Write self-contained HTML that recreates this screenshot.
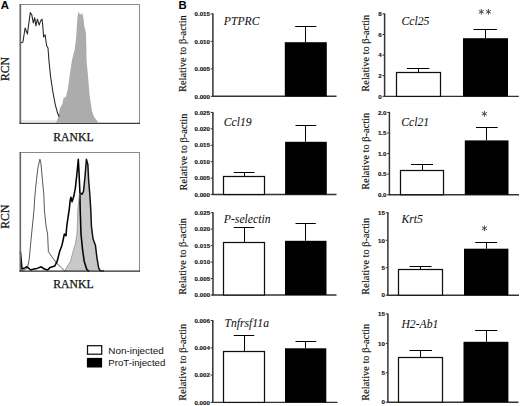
<!DOCTYPE html>
<html><head><meta charset="utf-8"><style>
html,body{margin:0;padding:0;background:#fff;}
body{width:520px;height:406px;overflow:hidden;}
svg{display:block;}
</style></head><body>
<svg width="520" height="406" viewBox="0 0 520 406">
<rect width="520" height="406" fill="#fff"/>
<text x="0.7" y="9.4" font-family="&quot;Liberation Sans&quot;, sans-serif" font-size="11.4" font-weight="bold" font-style="normal" text-anchor="start" fill="#000">A</text>
<text x="178.6" y="9.2" font-family="&quot;Liberation Sans&quot;, sans-serif" font-size="11.3" font-weight="bold" font-style="normal" text-anchor="start" fill="#000">B</text>
<path d="M56,122.5 L58,118 L60,108 L62.4,104 L64,96 L65.2,98.4 L66.4,95.2 L68,88 L69.6,76 L72,60 L73.3,54.7 L74.8,48.7 L76.2,37 L77.4,17.7 L78.5,11 L79.2,13.3 L80.7,14.8 L82.2,13 L83.6,19.2 L84.4,26.6 L85.9,32.5 L86.3,44.3 L86.5,60 L88,76 L89.6,95.2 L92,111.2 L94.4,117.6 L97.6,121.6 L98,122.5 Z" fill="#acacac" stroke="none" stroke-width="1" stroke-linejoin="round"/>
<path d="M21,43 L22.9,42.1 L25.1,28 L27.4,34 L30.3,12.6 L31.8,14.8 L33.3,22.9 L34.7,17.7 L35.9,25.8 L37.4,19.2 L39.2,25.1 L40.7,20.7 L42.1,19.2 L42.9,27.3 L43.6,36.9 L45.1,34.7 L46.6,45.8 L48,48 L48.9,60 L50.5,76 L52.9,92 L55.3,104.8 L57.7,113.6 L59.3,116.8" fill="none" stroke="#222" stroke-width="1.05" stroke-linejoin="round"/>
<line x1="21" y1="121" x2="56" y2="121" stroke="#bbb" stroke-width="0.6"/>
<line x1="19.5" y1="4.5" x2="140" y2="4.5" stroke="#8a8a8a" stroke-width="1"/>
<line x1="139.5" y1="4" x2="139.5" y2="123.8" stroke="#8a8a8a" stroke-width="1"/>
<line x1="20.3" y1="4" x2="20.3" y2="123.8" stroke="#666" stroke-width="1.7"/>
<line x1="19.5" y1="123.3" x2="140" y2="123.3" stroke="#3a3a3a" stroke-width="1.2"/>
<text x="53.3" y="141.2" font-family="&quot;Liberation Serif&quot;, serif" font-size="11.7" font-weight="normal" font-style="normal" text-anchor="start" fill="#111" stroke="#111" stroke-width="0.25">RANKL</text>
<text x="8.9" y="81" font-family="&quot;Liberation Serif&quot;, serif" font-size="11.7" font-weight="normal" font-style="normal" text-anchor="start" fill="#111" transform="rotate(-90 8.9 81)" stroke="#111" stroke-width="0.25">RCN</text>
<path d="M65,271 L67.4,266 L70.6,261.2 L73,251.6 L75.4,243.6 L77,234 L77.8,210 L79.8,192 L82,194.3 L83.5,191.4 L85,176.6 L86.4,159.2 L87.9,164.8 L88.6,179.5 L89.8,194.3 L90.8,210 L91.4,226 L93,238.8 L95.4,245.2 L97,258 L98.6,267.6 L100.2,270.8 L101,271 Z" fill="#c8c8c8" stroke="none" stroke-width="1" stroke-linejoin="round"/>
<path d="M21,270.5 L24,270 L27.6,267.6 L29.2,259.6 L30.8,242 L32.4,226 L34,210 L35,194.3 L36.5,179.5 L37.9,167.7 L39.9,159.2 L40.9,163.3 L42.4,179.5 L43.8,194.3 L44.4,210 L46,226 L47.6,234 L48.4,251.6 L51.6,256.4 L56.4,262.8 L61.2,267.6 L64.4,270.8 L66,271" fill="none" stroke="#444" stroke-width="0.9" stroke-linejoin="round"/>
<path d="M20.4,251.6 L22,269 L25.2,267.6 L26.8,266.8 L30.8,270 L34,269 L37.2,268.4 L41.2,266.8 L44.4,269 L47.6,270 L50,267.6 L54.8,266 L57.2,261.2 L59.6,251.6 L62,245.2 L64.4,234 L66,235.6 L66.8,226 L68.4,214.8 L69.2,210 L70.2,200.2 L70.9,197.3 L72.1,201.7 L73.9,195.8 L75.3,188.4 L76.8,175.1 L78.3,159.2 L79,172 L79.8,190 L80.2,210 L81,234 L82.6,250 L84.2,261.2 L86.6,269 L89,271.6" fill="none" stroke="#000" stroke-width="1.55" stroke-linejoin="round"/>
<path d="M80.5,192.8 L82,194.3 L83.5,191.4 L85,176.6 L86.4,159.2 L87.9,164.8 L88.6,179.5 L89.8,194.3 L90.8,210 L91.4,226 L93,238.8 L95.4,245.2 L97,258 L98.6,267.6 L100.2,270.8 L104,271" fill="none" stroke="#111" stroke-width="1.5" stroke-linejoin="round"/>
<path d="M65,270.5 L67.4,266 L70.6,261.2 L73,251.6 L75.4,243.6 L77,234 L77.8,210 L79.5,193" fill="none" stroke="#888" stroke-width="0.7" stroke-linejoin="round"/>
<line x1="19.5" y1="152.5" x2="140" y2="152.5" stroke="#8a8a8a" stroke-width="1"/>
<line x1="139.5" y1="152" x2="139.5" y2="271.6" stroke="#8a8a8a" stroke-width="1"/>
<line x1="20.3" y1="152" x2="20.3" y2="271.6" stroke="#666" stroke-width="1.6"/>
<line x1="19.5" y1="271.1" x2="140" y2="271.1" stroke="#2a2a2a" stroke-width="1.3"/>
<text x="53.3" y="288.2" font-family="&quot;Liberation Serif&quot;, serif" font-size="11.7" font-weight="normal" font-style="normal" text-anchor="start" fill="#111" stroke="#111" stroke-width="0.25">RANKL</text>
<text x="8.9" y="228.7" font-family="&quot;Liberation Serif&quot;, serif" font-size="11.7" font-weight="normal" font-style="normal" text-anchor="start" fill="#111" transform="rotate(-90 8.9 228.7)" stroke="#111" stroke-width="0.25">RCN</text>
<rect x="87.5" y="345.7" width="14.2" height="8.5" fill="#fff" stroke="#111" stroke-width="1.25"/>
<rect x="86.9" y="357.9" width="15.2" height="9.6" fill="#000"/>
<text x="108.3" y="353.6" font-family="&quot;Liberation Sans&quot;, sans-serif" font-size="9.9" font-weight="normal" font-style="normal" text-anchor="start" fill="#111">Non-injected</text>
<text x="108.3" y="366.1" font-family="&quot;Liberation Sans&quot;, sans-serif" font-size="9.7" font-weight="normal" font-style="normal" text-anchor="start" fill="#111">ProT-injected</text>
<line x1="212.9" y1="13.4" x2="212.9" y2="96.9" stroke="#333" stroke-width="1.5"/>
<line x1="212.2" y1="96.3" x2="336.5" y2="96.3" stroke="#333" stroke-width="1.4"/>
<line x1="210.7" y1="13.9" x2="212.9" y2="13.9" stroke="#333" stroke-width="1"/>
<text x="210" y="16.15" font-family="&quot;Liberation Sans&quot;, sans-serif" font-size="6.2" font-weight="bold" font-style="normal" text-anchor="end" fill="#111" stroke="#111" stroke-width="0.12">0.015</text>
<line x1="210.7" y1="41.37" x2="212.9" y2="41.37" stroke="#333" stroke-width="1"/>
<text x="210" y="43.62" font-family="&quot;Liberation Sans&quot;, sans-serif" font-size="6.2" font-weight="bold" font-style="normal" text-anchor="end" fill="#111" stroke="#111" stroke-width="0.12">0.010</text>
<line x1="210.7" y1="68.83" x2="212.9" y2="68.83" stroke="#333" stroke-width="1"/>
<text x="210" y="71.08" font-family="&quot;Liberation Sans&quot;, sans-serif" font-size="6.2" font-weight="bold" font-style="normal" text-anchor="end" fill="#111" stroke="#111" stroke-width="0.12">0.005</text>
<line x1="210.7" y1="96.3" x2="212.9" y2="96.3" stroke="#333" stroke-width="1"/>
<text x="210" y="98.55" font-family="&quot;Liberation Sans&quot;, sans-serif" font-size="6.2" font-weight="bold" font-style="normal" text-anchor="end" fill="#111" stroke="#111" stroke-width="0.12">0.000</text>
<text x="186.5" y="53.6" font-family="&quot;Liberation Serif&quot;, serif" font-size="10.4" font-weight="normal" font-style="normal" text-anchor="middle" fill="#111" transform="rotate(-90 186.5 53.6)" stroke="#111" stroke-width="0.15">Relative to β-actin</text>
<line x1="305.5" y1="26.5" x2="305.5" y2="42.2" stroke="#000" stroke-width="1"/>
<line x1="295.2" y1="26.5" x2="316.4" y2="26.5" stroke="#000" stroke-width="1"/>
<rect x="284.8" y="42.2" width="42" height="54.1" fill="#000"/>
<text x="223.8" y="24.8" font-family="&quot;Liberation Serif&quot;, serif" font-size="11.7" font-weight="normal" font-style="italic" text-anchor="start" fill="#111" stroke="#111" stroke-width="0.05">PTPRC</text>
<line x1="384.6" y1="13.4" x2="384.6" y2="97" stroke="#333" stroke-width="1.5"/>
<line x1="383.9" y1="96.4" x2="518.8" y2="96.4" stroke="#333" stroke-width="1.4"/>
<line x1="382.4" y1="13.9" x2="384.6" y2="13.9" stroke="#333" stroke-width="1"/>
<text x="381.7" y="16.15" font-family="&quot;Liberation Sans&quot;, sans-serif" font-size="6.2" font-weight="bold" font-style="normal" text-anchor="end" fill="#111" stroke="#111" stroke-width="0.12">8</text>
<line x1="382.4" y1="34.5" x2="384.6" y2="34.5" stroke="#333" stroke-width="1"/>
<text x="381.7" y="36.75" font-family="&quot;Liberation Sans&quot;, sans-serif" font-size="6.2" font-weight="bold" font-style="normal" text-anchor="end" fill="#111" stroke="#111" stroke-width="0.12">6</text>
<line x1="382.4" y1="55.1" x2="384.6" y2="55.1" stroke="#333" stroke-width="1"/>
<text x="381.7" y="57.35" font-family="&quot;Liberation Sans&quot;, sans-serif" font-size="6.2" font-weight="bold" font-style="normal" text-anchor="end" fill="#111" stroke="#111" stroke-width="0.12">4</text>
<line x1="382.4" y1="75.7" x2="384.6" y2="75.7" stroke="#333" stroke-width="1"/>
<text x="381.7" y="77.95" font-family="&quot;Liberation Sans&quot;, sans-serif" font-size="6.2" font-weight="bold" font-style="normal" text-anchor="end" fill="#111" stroke="#111" stroke-width="0.12">2</text>
<line x1="382.4" y1="96.3" x2="384.6" y2="96.3" stroke="#333" stroke-width="1"/>
<text x="381.7" y="98.55" font-family="&quot;Liberation Sans&quot;, sans-serif" font-size="6.2" font-weight="bold" font-style="normal" text-anchor="end" fill="#111" stroke="#111" stroke-width="0.12">0</text>
<text x="369.2" y="53.2" font-family="&quot;Liberation Serif&quot;, serif" font-size="10.4" font-weight="normal" font-style="normal" text-anchor="middle" fill="#111" transform="rotate(-90 369.2 53.2)" stroke="#111" stroke-width="0.15">Relative to β-actin</text>
<line x1="418.5" y1="68.5" x2="418.5" y2="72.3" stroke="#000" stroke-width="1"/>
<line x1="406.9" y1="68.5" x2="429.4" y2="68.5" stroke="#000" stroke-width="1"/>
<rect x="396.5" y="72.5" width="44" height="23.9" fill="#fff" stroke="#111" stroke-width="1.25"/>
<line x1="485.5" y1="29.5" x2="485.5" y2="38.2" stroke="#000" stroke-width="1"/>
<line x1="473.5" y1="29.5" x2="496.9" y2="29.5" stroke="#000" stroke-width="1"/>
<rect x="463" y="38.2" width="45" height="58.2" fill="#000"/>
<text x="401.5" y="24.8" font-family="&quot;Liberation Serif&quot;, serif" font-size="11.7" font-weight="normal" font-style="italic" text-anchor="start" fill="#111" stroke="#111" stroke-width="0.05">Ccl25</text>
<path d="M481.3,9.3 L481.3,14.3 M479.13,10.55 L483.47,13.05 M483.47,10.55 L479.13,13.05" stroke="#444" stroke-width="0.95" stroke-linecap="round" fill="none"/>
<path d="M488.4,9.3 L488.4,14.3 M486.23,10.55 L490.57,13.05 M490.57,10.55 L486.23,13.05" stroke="#444" stroke-width="0.95" stroke-linecap="round" fill="none"/>
<line x1="212.9" y1="111.9" x2="212.9" y2="195.1" stroke="#333" stroke-width="1.5"/>
<line x1="212.2" y1="194.5" x2="336.5" y2="194.5" stroke="#333" stroke-width="1.4"/>
<line x1="210.7" y1="112.4" x2="212.9" y2="112.4" stroke="#333" stroke-width="1"/>
<text x="210" y="114.65" font-family="&quot;Liberation Sans&quot;, sans-serif" font-size="6.2" font-weight="bold" font-style="normal" text-anchor="end" fill="#111" stroke="#111" stroke-width="0.12">0.025</text>
<line x1="210.7" y1="128.82" x2="212.9" y2="128.82" stroke="#333" stroke-width="1"/>
<text x="210" y="131.07" font-family="&quot;Liberation Sans&quot;, sans-serif" font-size="6.2" font-weight="bold" font-style="normal" text-anchor="end" fill="#111" stroke="#111" stroke-width="0.12">0.020</text>
<line x1="210.7" y1="145.24" x2="212.9" y2="145.24" stroke="#333" stroke-width="1"/>
<text x="210" y="147.49" font-family="&quot;Liberation Sans&quot;, sans-serif" font-size="6.2" font-weight="bold" font-style="normal" text-anchor="end" fill="#111" stroke="#111" stroke-width="0.12">0.015</text>
<line x1="210.7" y1="161.66" x2="212.9" y2="161.66" stroke="#333" stroke-width="1"/>
<text x="210" y="163.91" font-family="&quot;Liberation Sans&quot;, sans-serif" font-size="6.2" font-weight="bold" font-style="normal" text-anchor="end" fill="#111" stroke="#111" stroke-width="0.12">0.010</text>
<line x1="210.7" y1="178.08" x2="212.9" y2="178.08" stroke="#333" stroke-width="1"/>
<text x="210" y="180.33" font-family="&quot;Liberation Sans&quot;, sans-serif" font-size="6.2" font-weight="bold" font-style="normal" text-anchor="end" fill="#111" stroke="#111" stroke-width="0.12">0.005</text>
<line x1="210.7" y1="194.5" x2="212.9" y2="194.5" stroke="#333" stroke-width="1"/>
<text x="210" y="196.75" font-family="&quot;Liberation Sans&quot;, sans-serif" font-size="6.2" font-weight="bold" font-style="normal" text-anchor="end" fill="#111" stroke="#111" stroke-width="0.12">0.000</text>
<text x="186.5" y="152" font-family="&quot;Liberation Serif&quot;, serif" font-size="10.4" font-weight="normal" font-style="normal" text-anchor="middle" fill="#111" transform="rotate(-90 186.5 152)" stroke="#111" stroke-width="0.15">Relative to β-actin</text>
<line x1="244.5" y1="172.5" x2="244.5" y2="176.6" stroke="#000" stroke-width="1"/>
<line x1="233.8" y1="172.5" x2="254.6" y2="172.5" stroke="#000" stroke-width="1"/>
<rect x="223.5" y="176.5" width="41" height="18" fill="#fff" stroke="#111" stroke-width="1.25"/>
<line x1="305.5" y1="125.5" x2="305.5" y2="141.8" stroke="#000" stroke-width="1"/>
<line x1="295.5" y1="125.5" x2="316.3" y2="125.5" stroke="#000" stroke-width="1"/>
<rect x="285.1" y="141.8" width="41.7" height="52.7" fill="#000"/>
<text x="223.8" y="125.5" font-family="&quot;Liberation Serif&quot;, serif" font-size="11.7" font-weight="normal" font-style="italic" text-anchor="start" fill="#111" stroke="#111" stroke-width="0.05">Ccl19</text>
<line x1="389.4" y1="111.9" x2="389.4" y2="195.3" stroke="#333" stroke-width="1.5"/>
<line x1="388.7" y1="194.7" x2="519" y2="194.7" stroke="#333" stroke-width="1.4"/>
<line x1="387.2" y1="112.4" x2="389.4" y2="112.4" stroke="#333" stroke-width="1"/>
<text x="386.5" y="114.65" font-family="&quot;Liberation Sans&quot;, sans-serif" font-size="6.2" font-weight="bold" font-style="normal" text-anchor="end" fill="#111" stroke="#111" stroke-width="0.12">2.0</text>
<line x1="387.2" y1="132.97" x2="389.4" y2="132.97" stroke="#333" stroke-width="1"/>
<text x="386.5" y="135.22" font-family="&quot;Liberation Sans&quot;, sans-serif" font-size="6.2" font-weight="bold" font-style="normal" text-anchor="end" fill="#111" stroke="#111" stroke-width="0.12">1.5</text>
<line x1="387.2" y1="153.55" x2="389.4" y2="153.55" stroke="#333" stroke-width="1"/>
<text x="386.5" y="155.8" font-family="&quot;Liberation Sans&quot;, sans-serif" font-size="6.2" font-weight="bold" font-style="normal" text-anchor="end" fill="#111" stroke="#111" stroke-width="0.12">1.0</text>
<line x1="387.2" y1="174.12" x2="389.4" y2="174.12" stroke="#333" stroke-width="1"/>
<text x="386.5" y="176.37" font-family="&quot;Liberation Sans&quot;, sans-serif" font-size="6.2" font-weight="bold" font-style="normal" text-anchor="end" fill="#111" stroke="#111" stroke-width="0.12">0.5</text>
<line x1="387.2" y1="194.7" x2="389.4" y2="194.7" stroke="#333" stroke-width="1"/>
<text x="386.5" y="196.95" font-family="&quot;Liberation Sans&quot;, sans-serif" font-size="6.2" font-weight="bold" font-style="normal" text-anchor="end" fill="#111" stroke="#111" stroke-width="0.12">0.0</text>
<text x="369.2" y="151.2" font-family="&quot;Liberation Serif&quot;, serif" font-size="10.4" font-weight="normal" font-style="normal" text-anchor="middle" fill="#111" transform="rotate(-90 369.2 151.2)" stroke="#111" stroke-width="0.15">Relative to β-actin</text>
<line x1="422.5" y1="164.5" x2="422.5" y2="170.5" stroke="#000" stroke-width="1"/>
<line x1="411" y1="164.5" x2="433" y2="164.5" stroke="#000" stroke-width="1"/>
<rect x="400.5" y="170.5" width="43" height="24.2" fill="#fff" stroke="#111" stroke-width="1.25"/>
<line x1="486.5" y1="127.5" x2="486.5" y2="140.4" stroke="#000" stroke-width="1"/>
<line x1="476" y1="127.5" x2="497.7" y2="127.5" stroke="#000" stroke-width="1"/>
<rect x="464.8" y="140.4" width="43.7" height="54.3" fill="#000"/>
<text x="401.3" y="125.5" font-family="&quot;Liberation Serif&quot;, serif" font-size="11.7" font-weight="normal" font-style="italic" text-anchor="start" fill="#111" stroke="#111" stroke-width="0.05">Ccl21</text>
<path d="M484.4,111.3 L484.4,116.3 M482.23,112.55 L486.57,115.05 M486.57,112.55 L482.23,115.05" stroke="#444" stroke-width="0.95" stroke-linecap="round" fill="none"/>
<line x1="213" y1="212.2" x2="213" y2="295.6" stroke="#333" stroke-width="1.5"/>
<line x1="212.3" y1="295" x2="336.5" y2="295" stroke="#333" stroke-width="1.4"/>
<line x1="210.8" y1="212.7" x2="213" y2="212.7" stroke="#333" stroke-width="1"/>
<text x="210.1" y="214.95" font-family="&quot;Liberation Sans&quot;, sans-serif" font-size="6.2" font-weight="bold" font-style="normal" text-anchor="end" fill="#111" stroke="#111" stroke-width="0.12">0.025</text>
<line x1="210.8" y1="229.16" x2="213" y2="229.16" stroke="#333" stroke-width="1"/>
<text x="210.1" y="231.41" font-family="&quot;Liberation Sans&quot;, sans-serif" font-size="6.2" font-weight="bold" font-style="normal" text-anchor="end" fill="#111" stroke="#111" stroke-width="0.12">0.020</text>
<line x1="210.8" y1="245.62" x2="213" y2="245.62" stroke="#333" stroke-width="1"/>
<text x="210.1" y="247.87" font-family="&quot;Liberation Sans&quot;, sans-serif" font-size="6.2" font-weight="bold" font-style="normal" text-anchor="end" fill="#111" stroke="#111" stroke-width="0.12">0.015</text>
<line x1="210.8" y1="262.08" x2="213" y2="262.08" stroke="#333" stroke-width="1"/>
<text x="210.1" y="264.33" font-family="&quot;Liberation Sans&quot;, sans-serif" font-size="6.2" font-weight="bold" font-style="normal" text-anchor="end" fill="#111" stroke="#111" stroke-width="0.12">0.010</text>
<line x1="210.8" y1="278.54" x2="213" y2="278.54" stroke="#333" stroke-width="1"/>
<text x="210.1" y="280.79" font-family="&quot;Liberation Sans&quot;, sans-serif" font-size="6.2" font-weight="bold" font-style="normal" text-anchor="end" fill="#111" stroke="#111" stroke-width="0.12">0.005</text>
<line x1="210.8" y1="295" x2="213" y2="295" stroke="#333" stroke-width="1"/>
<text x="210.1" y="297.25" font-family="&quot;Liberation Sans&quot;, sans-serif" font-size="6.2" font-weight="bold" font-style="normal" text-anchor="end" fill="#111" stroke="#111" stroke-width="0.12">0.000</text>
<text x="186.5" y="256.4" font-family="&quot;Liberation Serif&quot;, serif" font-size="10.4" font-weight="normal" font-style="normal" text-anchor="middle" fill="#111" transform="rotate(-90 186.5 256.4)" stroke="#111" stroke-width="0.15">Relative to β-actin</text>
<line x1="244.5" y1="227.5" x2="244.5" y2="242.5" stroke="#000" stroke-width="1"/>
<line x1="233.8" y1="227.5" x2="254.3" y2="227.5" stroke="#000" stroke-width="1"/>
<rect x="223.5" y="242.5" width="41" height="52.5" fill="#fff" stroke="#111" stroke-width="1.25"/>
<line x1="305.5" y1="223.5" x2="305.5" y2="240.8" stroke="#000" stroke-width="1"/>
<line x1="295.5" y1="223.5" x2="315.8" y2="223.5" stroke="#000" stroke-width="1"/>
<rect x="285" y="240.8" width="41.5" height="54.2" fill="#000"/>
<text x="223.8" y="222.5" font-family="&quot;Liberation Serif&quot;, serif" font-size="11.7" font-weight="normal" font-style="italic" text-anchor="start" fill="#111" stroke="#111" stroke-width="0.05">P-selectin</text>
<line x1="387.9" y1="212.3" x2="387.9" y2="295.8" stroke="#333" stroke-width="1.5"/>
<line x1="387.2" y1="295.2" x2="519" y2="295.2" stroke="#333" stroke-width="1.4"/>
<line x1="385.7" y1="212.8" x2="387.9" y2="212.8" stroke="#333" stroke-width="1"/>
<text x="385" y="215.05" font-family="&quot;Liberation Sans&quot;, sans-serif" font-size="6.2" font-weight="bold" font-style="normal" text-anchor="end" fill="#111" stroke="#111" stroke-width="0.12">15</text>
<line x1="385.7" y1="240.27" x2="387.9" y2="240.27" stroke="#333" stroke-width="1"/>
<text x="385" y="242.52" font-family="&quot;Liberation Sans&quot;, sans-serif" font-size="6.2" font-weight="bold" font-style="normal" text-anchor="end" fill="#111" stroke="#111" stroke-width="0.12">10</text>
<line x1="385.7" y1="267.73" x2="387.9" y2="267.73" stroke="#333" stroke-width="1"/>
<text x="385" y="269.98" font-family="&quot;Liberation Sans&quot;, sans-serif" font-size="6.2" font-weight="bold" font-style="normal" text-anchor="end" fill="#111" stroke="#111" stroke-width="0.12">5</text>
<line x1="385.7" y1="295.2" x2="387.9" y2="295.2" stroke="#333" stroke-width="1"/>
<text x="385" y="297.45" font-family="&quot;Liberation Sans&quot;, sans-serif" font-size="6.2" font-weight="bold" font-style="normal" text-anchor="end" fill="#111" stroke="#111" stroke-width="0.12">0</text>
<text x="369.2" y="256.2" font-family="&quot;Liberation Serif&quot;, serif" font-size="10.4" font-weight="normal" font-style="normal" text-anchor="middle" fill="#111" transform="rotate(-90 369.2 256.2)" stroke="#111" stroke-width="0.15">Relative to β-actin</text>
<line x1="420.5" y1="266.5" x2="420.5" y2="269.7" stroke="#000" stroke-width="1"/>
<line x1="409.6" y1="266.5" x2="431.5" y2="266.5" stroke="#000" stroke-width="1"/>
<rect x="398.5" y="269.5" width="44" height="25.7" fill="#fff" stroke="#111" stroke-width="1.25"/>
<line x1="486.5" y1="242.5" x2="486.5" y2="248.7" stroke="#000" stroke-width="1"/>
<line x1="475.2" y1="242.5" x2="497.1" y2="242.5" stroke="#000" stroke-width="1"/>
<rect x="464" y="248.7" width="44.4" height="46.5" fill="#000"/>
<text x="401.4" y="222.5" font-family="&quot;Liberation Serif&quot;, serif" font-size="11.7" font-weight="normal" font-style="italic" text-anchor="start" fill="#111" stroke="#111" stroke-width="0.05">Krt5</text>
<path d="M484.4,225.8 L484.4,230.8 M482.23,227.05 L486.57,229.55 M486.57,227.05 L482.23,229.55" stroke="#444" stroke-width="0.95" stroke-linecap="round" fill="none"/>
<line x1="212.8" y1="320.1" x2="212.8" y2="403" stroke="#333" stroke-width="1.5"/>
<line x1="212.1" y1="402.4" x2="337.5" y2="402.4" stroke="#333" stroke-width="1.4"/>
<line x1="210.6" y1="320.6" x2="212.8" y2="320.6" stroke="#333" stroke-width="1"/>
<text x="209.9" y="322.85" font-family="&quot;Liberation Sans&quot;, sans-serif" font-size="6.2" font-weight="bold" font-style="normal" text-anchor="end" fill="#111" stroke="#111" stroke-width="0.12">0.006</text>
<line x1="210.6" y1="347.87" x2="212.8" y2="347.87" stroke="#333" stroke-width="1"/>
<text x="209.9" y="350.12" font-family="&quot;Liberation Sans&quot;, sans-serif" font-size="6.2" font-weight="bold" font-style="normal" text-anchor="end" fill="#111" stroke="#111" stroke-width="0.12">0.004</text>
<line x1="210.6" y1="375.13" x2="212.8" y2="375.13" stroke="#333" stroke-width="1"/>
<text x="209.9" y="377.38" font-family="&quot;Liberation Sans&quot;, sans-serif" font-size="6.2" font-weight="bold" font-style="normal" text-anchor="end" fill="#111" stroke="#111" stroke-width="0.12">0.002</text>
<line x1="210.6" y1="402.4" x2="212.8" y2="402.4" stroke="#333" stroke-width="1"/>
<text x="209.9" y="404.65" font-family="&quot;Liberation Sans&quot;, sans-serif" font-size="6.2" font-weight="bold" font-style="normal" text-anchor="end" fill="#111" stroke="#111" stroke-width="0.12">0.000</text>
<text x="186.5" y="362.3" font-family="&quot;Liberation Serif&quot;, serif" font-size="10.4" font-weight="normal" font-style="normal" text-anchor="middle" fill="#111" transform="rotate(-90 186.5 362.3)" stroke="#111" stroke-width="0.15">Relative to β-actin</text>
<line x1="244.5" y1="335.5" x2="244.5" y2="351.8" stroke="#000" stroke-width="1"/>
<line x1="233.8" y1="335.5" x2="254.3" y2="335.5" stroke="#000" stroke-width="1"/>
<rect x="223.5" y="351.5" width="41" height="50.9" fill="#fff" stroke="#111" stroke-width="1.25"/>
<line x1="305.5" y1="341.5" x2="305.5" y2="348.3" stroke="#000" stroke-width="1"/>
<line x1="295.5" y1="341.5" x2="316.3" y2="341.5" stroke="#000" stroke-width="1"/>
<rect x="285" y="348.3" width="41.3" height="54.1" fill="#000"/>
<text x="224.4" y="327.4" font-family="&quot;Liberation Serif&quot;, serif" font-size="11.7" font-weight="normal" font-style="italic" text-anchor="start" fill="#111" stroke="#111" stroke-width="0.05">Tnfrsf11a</text>
<line x1="387.9" y1="313.5" x2="387.9" y2="402.8" stroke="#333" stroke-width="1.5"/>
<line x1="387.2" y1="402.2" x2="518.5" y2="402.2" stroke="#333" stroke-width="1.4"/>
<line x1="385.7" y1="314" x2="387.9" y2="314" stroke="#333" stroke-width="1"/>
<text x="385" y="316.25" font-family="&quot;Liberation Sans&quot;, sans-serif" font-size="6.2" font-weight="bold" font-style="normal" text-anchor="end" fill="#111" stroke="#111" stroke-width="0.12">15</text>
<line x1="385.7" y1="343.4" x2="387.9" y2="343.4" stroke="#333" stroke-width="1"/>
<text x="385" y="345.65" font-family="&quot;Liberation Sans&quot;, sans-serif" font-size="6.2" font-weight="bold" font-style="normal" text-anchor="end" fill="#111" stroke="#111" stroke-width="0.12">10</text>
<line x1="385.7" y1="372.8" x2="387.9" y2="372.8" stroke="#333" stroke-width="1"/>
<text x="385" y="375.05" font-family="&quot;Liberation Sans&quot;, sans-serif" font-size="6.2" font-weight="bold" font-style="normal" text-anchor="end" fill="#111" stroke="#111" stroke-width="0.12">5</text>
<line x1="385.7" y1="402.2" x2="387.9" y2="402.2" stroke="#333" stroke-width="1"/>
<text x="385" y="404.45" font-family="&quot;Liberation Sans&quot;, sans-serif" font-size="6.2" font-weight="bold" font-style="normal" text-anchor="end" fill="#111" stroke="#111" stroke-width="0.12">0</text>
<text x="369.2" y="362.3" font-family="&quot;Liberation Serif&quot;, serif" font-size="10.4" font-weight="normal" font-style="normal" text-anchor="middle" fill="#111" transform="rotate(-90 369.2 362.3)" stroke="#111" stroke-width="0.15">Relative to β-actin</text>
<line x1="420.5" y1="350.5" x2="420.5" y2="357.1" stroke="#000" stroke-width="1"/>
<line x1="409.5" y1="350.5" x2="432" y2="350.5" stroke="#000" stroke-width="1"/>
<rect x="398.5" y="357.5" width="44" height="44.7" fill="#fff" stroke="#111" stroke-width="1.25"/>
<line x1="486.5" y1="330.5" x2="486.5" y2="341.8" stroke="#000" stroke-width="1"/>
<line x1="475.1" y1="330.5" x2="497.3" y2="330.5" stroke="#000" stroke-width="1"/>
<rect x="463.5" y="341.8" width="44.9" height="60.4" fill="#000"/>
<text x="401.4" y="327.5" font-family="&quot;Liberation Serif&quot;, serif" font-size="11.7" font-weight="normal" font-style="italic" text-anchor="start" fill="#111" stroke="#111" stroke-width="0.05">H2-Ab1</text>
</svg>
</body></html>
